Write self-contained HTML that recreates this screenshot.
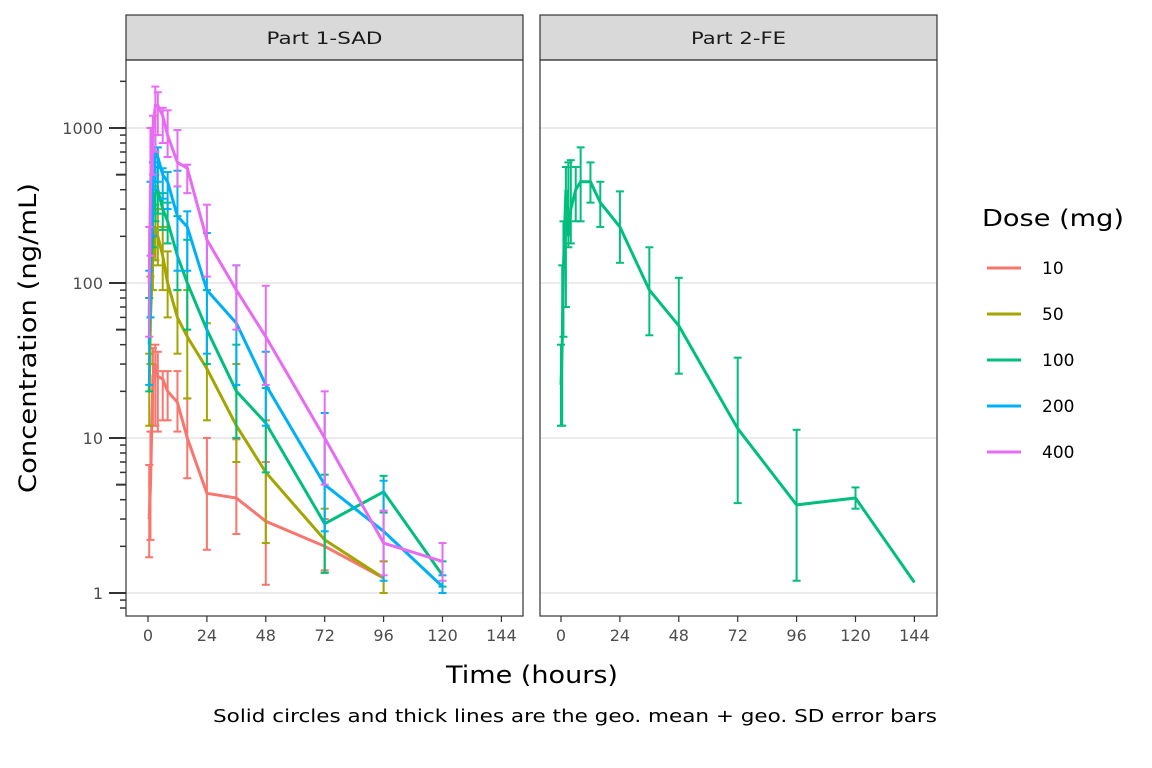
<!DOCTYPE html>
<html><head><meta charset="utf-8"><style>
html,body{margin:0;padding:0;background:#fff;width:1152px;height:768px;overflow:hidden}
text{font-family:"DejaVu Sans","Liberation Sans",sans-serif}
</style></head><body>
<svg id="s" width="1152" height="768" xmlns="http://www.w3.org/2000/svg"></svg>
<script>
const S=document.getElementById('s');let h='';
const Y=c=>593-155*Math.log10(c);
const P=[{x0:126,x1:523,ox:148,t:'Part 1-SAD',w:116},{x0:540,x1:937,ox:561,t:'Part 2-FE',w:95}];
const X=(p,t)=>P[p].ox+t*58.9/24;
for(const p of P){
 h+=`<rect x="${p.x0}" y="15" width="${p.x1-p.x0}" height="45" fill="#d9d9d9" stroke="#333" stroke-width="1.2"/>`;
 h+=`<text x="${(p.x0+p.x1)/2}" y="44" font-size="17" text-anchor="middle" fill="#1a1a1a" textLength="${p.w}" lengthAdjust="spacingAndGlyphs">${p.t}</text>`;
 for(const c of [1,10,100,1000])h+=`<line x1="${p.x0}" x2="${p.x1}" y1="${Y(c)}" y2="${Y(c)}" stroke="#ebebeb" stroke-width="2"/>`;
}
const col=['#F8766D','#A3A500','#00BF7D','#00B0F6','#E76BF3'];
const D=[
 [[0.5,3,1.7,6.7],[1,5,2.2,11],[2,25,12,38],[3,30,12,40],[4,25,11,36],[6,24,13,27],[8,20,13,27],[12,17,11,27],[16,10,5.5,18],[24,4.4,1.9,10],[36,4.1,2.4,9.8],[48,2.9,1.13,7],[72,2.0,1.4,3],[96,1.25,1,1.6]],
 [[0.5,20,12,35],[1,60,30,110],[2,150,90,250],[3,230,140,320],[4,200,130,300],[6,150,90,230],[8,100,60,160],[12,60,35,90],[16,45,18,90],[24,28,13,55],[36,12,7,30],[48,6,2.1,13],[72,2.2,1.35,3.5],[96,1.25,1,1.6]],
 [[0.5,40,20,80],[1,120,60,230],[2,300,170,420],[3,380,250,500],[4,400,280,560],[6,300,220,380],[8,250,180,330],[12,150,90,270],[16,100,50,190],[24,50,30,90],[36,20,10,40],[48,12.5,6,21],[72,2.8,1.35,5.8],[96,4.5,3.3,5.7],[120,1.3,1.1,1.6]],
 [[0.5,60,22,120],[1,200,60,450],[2,500,200,600],[3,700,400,900],[4,650,450,750],[6,500,350,550],[8,450,300,520],[12,270,120,530],[16,230,120,290],[24,90,35,210],[36,55,22,130],[48,22,12,36],[72,5,2.5,14.5],[96,2.5,1.2,5.3],[120,1.1,1,1.3]],
 [[0.5,100,45,230],[1,400,150,1000],[2,1000,500,1200],[3,1400,700,1850],[4,1400,900,1700],[6,1200,800,1350],[8,900,650,1300],[12,600,420,970],[16,550,380,580],[24,190,110,320],[36,90,50,130],[48,45,22,96],[72,10,5,20],[96,2.1,1.3,3.4],[120,1.6,1.2,2.1]]
];
function series(p,pts,c){let pa='';
 pts.forEach(q=>{const x=X(p,q[0]);pa+=(pa?'L':'M')+x.toFixed(1)+','+Y(q[1]).toFixed(1);
  if(q[2]!=q[3])h+=`<g stroke="${c}" stroke-width="2"><line x1="${x}" x2="${x}" y1="${Y(q[2])}" y2="${Y(q[3])}"/><line x1="${x-4}" x2="${x+4}" y1="${Y(q[2])}" y2="${Y(q[2])}"/><line x1="${x-4}" x2="${x+4}" y1="${Y(q[3])}" y2="${Y(q[3])}"/></g>`;});
 h+=`<path d="${pa}" fill="none" stroke="${c}" stroke-width="3"/>`;}
D.forEach((d,i)=>series(0,d,col[i]));
series(1,[[0,22,12,40],[0.5,40,12,130],[1,130,45,250],[2,400,70,560],[3,200,170,600],[4,300,180,620],[6,400,250,560],[8,450,250,750],[12,450,330,600],[16,330,230,450],[24,230,135,390],[36,90,46,170],[48,53,26,108],[72,11.5,3.8,33],[96,3.7,1.2,11.3],[120,4.1,3.5,4.8],[144,1.17,1.17,1.17]],'#00BF7D');
for(const p of P){h+=`<rect x="${p.x0}" y="60" width="${p.x1-p.x0}" height="556" fill="none" stroke="#333" stroke-width="1.2"/>`;
 for(let t=0;t<=144;t+=24){const x=X(P.indexOf(p),t);h+=`<line x1="${x}" x2="${x}" y1="616" y2="622" stroke="#333" stroke-width="1.2"/><text x="${x}" y="641" font-size="16" text-anchor="middle" fill="#4d4d4d">${t}</text>`;}}
for(let e=-1;e<=3;e++)for(let m=1;m<=9;m++){const c=m*Math.pow(10,e);const y=Y(c);if(y<62||y>616)continue;
 const L=m==1?17:(m==5?10:6);h+=`<line x1="${126-L}" x2="126" y1="${y}" y2="${y}" stroke="#333" stroke-width="${m==1||m==5?2:1.5}"/>`;}
[[1,'1'],[10,'10'],[100,'100'],[1000,'1000']].forEach(a=>h+=`<text x="103" y="${Y(a[0])+6}" font-size="16" text-anchor="end" fill="#4d4d4d">${a[1]}</text>`);
h+=`<text x="532" y="683" font-size="24" text-anchor="middle" fill="#000" textLength="172" lengthAdjust="spacingAndGlyphs">Time (hours)</text>`;
h+=`<text transform="translate(36,338) rotate(-90)" font-size="24" text-anchor="middle" fill="#000" textLength="310" lengthAdjust="spacingAndGlyphs">Concentration (ng/mL)</text>`;
h+=`<text x="937" y="722" font-size="17.5" text-anchor="end" fill="#000" textLength="724" lengthAdjust="spacingAndGlyphs">Solid circles and thick lines are the geo. mean + geo. SD error bars</text>`;
h+=`<text x="982" y="226" font-size="23" fill="#000" textLength="142" lengthAdjust="spacingAndGlyphs">Dose (mg)</text>`;
['10','50','100','200','400'].forEach((l,i)=>{const y=268+i*46;h+=`<line x1="987" x2="1021" y1="${y}" y2="${y}" stroke="${col[i]}" stroke-width="3"/><text x="1042" y="${y+6}" font-size="17" fill="#000">${l}</text>`;});
S.innerHTML=h;
</script>
</body></html>
